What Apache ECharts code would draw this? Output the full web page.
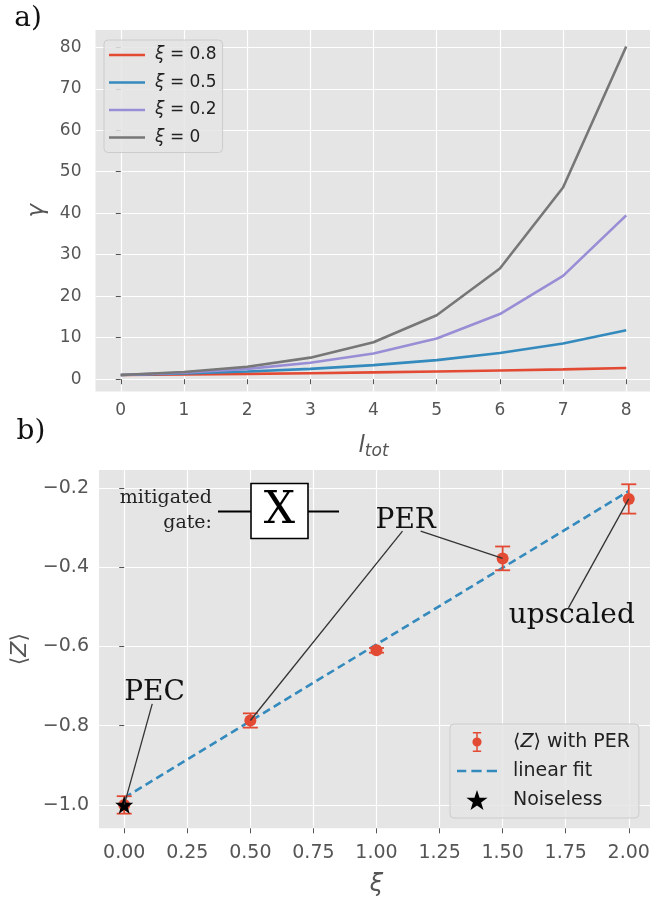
<!DOCTYPE html>
<html><head><meta charset="utf-8">
<script src="https://cdn.jsdelivr.net/npm/echarts@6/dist/echarts.min.js"></script>
<style>html,body{margin:0;padding:0;background:#fff}#c{width:650px;height:898px}</style>
</head><body><div id="c"></div>
<script>
// ---------- data (a) ----------
const lTot = [0, 1, 2, 3, 4, 5, 6, 7, 8];
const gammaXi08 = [1, 1.13, 1.28, 1.45, 1.64, 1.85, 2.1, 2.37, 2.7];
const gammaXi05 = [1, 1.36, 1.85, 2.5, 3.4, 4.6, 6.3, 8.6, 11.8];
const gammaXi02 = [1, 1.58, 2.5, 3.95, 6.2, 9.8, 15.7, 24.9, 39.5];
const gammaXi00 = [1, 1.73, 3.0, 5.2, 8.9, 15.4, 26.7, 46.2, 80.2];
const seriesNamesA = ['ξ = 0.8', 'ξ = 0.5', 'ξ = 0.2', 'ξ = 0'];
const topXTicks = [0, 1, 2, 3, 4, 5, 6, 7, 8];
const topYTicks = [0, 10, 20, 30, 40, 50, 60, 70, 80];

// ---------- data (b) ----------
const xiPER = [0, 0.5, 1.0, 1.5, 2.0];
const zPER = [-1.0, -0.787, -0.61, -0.378, -0.228];
const zErr = [0.022, 0.018, 0.006, 0.03, 0.037];
const fitXi = [0, 2];
const fitZ = [-0.982, -0.208];
const noiselessXi = [0];
const noiselessZ = [-1.0];
const botXTicks = [0, 0.25, 0.5, 0.75, 1.0, 1.25, 1.5, 1.75, 2.0];
const botYTicks = [-1.0, -0.8, -0.6, -0.4, -0.2];
const annLabels = ['PEC', 'PER', 'upscaled'];
const annTextXi = [0.12, 1.116, 1.774];
const annTextZ = [-0.717, -0.284, -0.523];
const annFromXi = [0.111, 1.103, 1.175, 1.761];
const annFromZ = [-0.745, -0.309, -0.309, -0.503];
const annToXi = [0, 0.5, 1.5, 2.0];
const annToZ = [-1.0, -0.787, -0.378, -0.228];

const colorsA = ['#E24A33', '#348ABD', '#988ED5', '#777777'];
const gammas = [gammaXi08, gammaXi05, gammaXi02, gammaXi00];
const RED = '#E24A33', BLUE = '#348ABD';
const SANS = 'DejaVu Sans', SERIF = 'DejaVu Serif';
const STAR = 'path://M50,0 L61.8,35.1 L98.1,35.1 L68.8,56.7 L79.4,91 L50,70 L20.6,91 L31.2,56.7 L1.9,35.1 L38.2,35.1 Z';
const EBAR = 'path://M3,0H13V1.8H3Z M7.1,0H8.9V24H7.1Z M3,22.2H13V24H3Z M13.5,12A5.5,5.5 0 1 1 2.5,12A5.5,5.5 0 1 1 13.5,12Z';
const LINEICON = 'path://M0,0H36V2.5H0Z';
const DASHICON = 'path://M0,0H9V2.5H0Z M14,0H24V2.5H14Z M29,0H39V2.5H29Z';

function axisCommon(ticks, fontSize, margin, fmt) {
  return {
    axisLine: { show: false },
    axisTick: { show: true, customValues: ticks, length: 5, lineStyle: { color: '#555', width: 1 } },
    axisLabel: { customValues: ticks, fontSize: fontSize, color: '#555', margin: margin, fontFamily: SANS, formatter: fmt },
    splitLine: { show: true, lineStyle: { color: '#ffffff', width: 1.2 } }
  };
}

const chart = echarts.init(document.getElementById('c'), null, { renderer: 'canvas' });

const option = {
  animation: false,
  backgroundColor: '#ffffff',
  grid: [
    { left: 95.5, top: 30, width: 556, height: 361.5, show: true, backgroundColor: '#E5E5E5', borderWidth: 0, outerBoundsMode: 'none' },
    { left: 99, top: 470, width: 555, height: 358.3, show: true, backgroundColor: '#E5E5E5', borderWidth: 0, outerBoundsMode: 'none' }
  ],
  xAxis: [
    Object.assign({ type: 'value', gridIndex: 0, min: -0.4, max: 8.4,
      name: '{l|l}{s|tot}', nameLocation: 'middle', nameGap: 40,
      nameTextStyle: { rich: {
        l: { fontSize: 23, fontStyle: 'italic', fontFamily: SANS, color: '#555' },
        s: { fontSize: 17, fontStyle: 'italic', fontFamily: SANS, color: '#555', padding: [12, 0, 0, 0] } } }
    }, axisCommon(topXTicks, 17, 11, v => String(v))),
    Object.assign({ type: 'value', gridIndex: 1, min: -0.1, max: 2.1,
      name: 'ξ', nameLocation: 'middle', nameGap: 44,
      nameTextStyle: { fontSize: 24, fontStyle: 'italic', fontFamily: SANS, color: '#555' }
    }, axisCommon(botXTicks, 19, 15, v => v.toFixed(2)))
  ],
  yAxis: [
    Object.assign({ type: 'value', gridIndex: 0, min: -2.96, max: 84.16,
      name: 'γ', nameLocation: 'middle', nameGap: 44,
      nameTextStyle: { fontSize: 23, fontStyle: 'italic', fontFamily: SANS, color: '#555' }
    }, axisCommon(topYTicks, 17, 14, v => String(v))),
    Object.assign({ type: 'value', gridIndex: 1, min: -1.059, max: -0.155,
      name: '⟨{i|Z}⟩', nameLocation: 'middle', nameGap: 68,
      nameTextStyle: { fontSize: 22, fontFamily: SANS, color: '#555',
        rich: { i: { fontSize: 22, fontStyle: 'italic', fontFamily: SANS, color: '#555' } } }
    }, axisCommon(botYTicks, 19, 10, v => (v < 0 ? '\u2212' : '') + Math.abs(v).toFixed(1)))
  ],
  legend: [
    {
      data: seriesNamesA.map((n, i) => ({ name: n, icon: LINEICON, itemStyle: { color: colorsA[i], borderWidth: 0 } })),
      left: 104, top: 40, orient: 'vertical',
      itemWidth: 36, itemHeight: 12, itemGap: 7.5,
      textStyle: { fontSize: 17, lineHeight: 20, color: '#222', fontFamily: SANS, padding: [0, 0, 0, 5],
        rich: { i: { fontSize: 17, fontStyle: 'italic', fontFamily: SANS, color: '#222' } } },
      formatter: n => n.replace('ξ', '{i|ξ}'),
      backgroundColor: 'rgba(229,229,229,0.85)', borderColor: '#cccccc', borderWidth: 1, borderRadius: 4,
      padding: [5, 6, 5, 5], selectedMode: false
    },
    {
      data: [
        { name: '⟨Z⟩ with PER', icon: EBAR, itemStyle: { color: RED, borderWidth: 0 } },
        { name: 'linear fit', icon: DASHICON, itemStyle: { color: BLUE, borderWidth: 0 } },
        { name: 'Noiseless', itemStyle: { color: '#000', borderWidth: 0 } }
      ],
      left: 450, top: 724, orient: 'vertical',
      itemWidth: 40, itemHeight: 20, itemGap: 7,
      textStyle: { fontSize: 19, lineHeight: 22, color: '#222', fontFamily: SANS, padding: [0, 0, 0, 11],
        rich: { i: { fontSize: 19, fontStyle: 'italic', fontFamily: SANS, color: '#222' } } },
      formatter: n => n.replace('Z', '{i|Z}'),
      backgroundColor: 'rgba(229,229,229,0.85)', borderColor: '#cccccc', borderWidth: 1, borderRadius: 4,
      padding: [7, 9, 7, 7], selectedMode: false
    }
  ],
  series: [],
  graphic: [
    { type: 'text', x: 28, y: 19, style: { text: 'a)', fontSize: 28, fontFamily: SERIF, fill: '#111', textAlign: 'center', textVerticalAlign: 'middle' } },
    { type: 'text', x: 31, y: 432, style: { text: 'b)', fontSize: 28, fontFamily: SERIF, fill: '#111', textAlign: 'center', textVerticalAlign: 'middle' } },
    { type: 'text', x: 212, y: 498, z: 100, style: { text: 'mitigated', fontSize: 19, fontFamily: SERIF, fill: '#222', textAlign: 'right', textVerticalAlign: 'middle' } },
    { type: 'text', x: 212, y: 523, z: 100, style: { text: 'gate:', fontSize: 19, fontFamily: SERIF, fill: '#222', textAlign: 'right', textVerticalAlign: 'middle' } },
    { type: 'line', z: 100, shape: { x1: 218, y1: 511.5, x2: 251, y2: 511.5 }, style: { stroke: '#000', lineWidth: 2 } },
    { type: 'line', z: 100, shape: { x1: 308, y1: 511.5, x2: 339, y2: 511.5 }, style: { stroke: '#000', lineWidth: 2 } },
    { type: 'rect', z: 100, shape: { x: 251, y: 483.5, width: 57, height: 55 }, style: { fill: '#fff', stroke: '#000', lineWidth: 1.6 } },
    { type: 'text', x: 279.5, y: 512, z: 101, style: { text: 'X', fontSize: 44, fontFamily: SERIF, fill: '#000', textAlign: 'center', textVerticalAlign: 'middle' } }
  ]
};

// panel (a) lines
for (let s = 0; s < 4; s++) {
  option.series.push({
    type: 'line', name: seriesNamesA[s], xAxisIndex: 0, yAxisIndex: 0,
    data: lTot.map((x, i) => [x, gammas[s][i]]),
    symbol: 'none', lineStyle: { color: colorsA[s], width: 2.6 }, itemStyle: { color: colorsA[s] }, z: 3
  });
}

// panel (b)
option.series.push({
  type: 'line', name: 'linear fit', xAxisIndex: 1, yAxisIndex: 1,
  data: fitXi.map((x, i) => [x, fitZ[i]]), symbol: 'none',
  lineStyle: { color: BLUE, width: 2.6, type: [8, 4.5] }, itemStyle: { color: BLUE }, z: 3
});
option.series.push({
  type: 'custom', name: 'errbar', xAxisIndex: 1, yAxisIndex: 1, z: 4, silent: true,
  data: xiPER.map((x, i) => [x, zPER[i], zErr[i]]),
  encode: { x: 0, y: 1 },
  renderItem: function (params, api) {
    const x = api.value(0), y = api.value(1), e = api.value(2);
    const t = api.coord([x, y + e]), b = api.coord([x, y - e]);
    const h = 7.5, st = { stroke: RED, lineWidth: 1.8 };
    return { type: 'group', children: [
      { type: 'line', shape: { x1: t[0], y1: t[1], x2: b[0], y2: b[1] }, style: st },
      { type: 'line', shape: { x1: t[0] - h, y1: t[1], x2: t[0] + h, y2: t[1] }, style: st },
      { type: 'line', shape: { x1: b[0] - h, y1: b[1], x2: b[0] + h, y2: b[1] }, style: st }
    ] };
  }
});
option.series.push({
  type: 'scatter', name: '⟨Z⟩ with PER', xAxisIndex: 1, yAxisIndex: 1, z: 5,
  data: xiPER.map((x, i) => [x, zPER[i]]), symbol: 'circle', symbolSize: 12,
  itemStyle: { color: RED, opacity: 1 }
});
option.series.push({
  type: 'scatter', name: 'Noiseless', xAxisIndex: 1, yAxisIndex: 1, z: 6,
  data: noiselessXi.map((x, i) => [x, noiselessZ[i]]), symbol: STAR, symbolSize: 18,
  itemStyle: { color: '#000', opacity: 1 }
});
option.series.push({
  type: 'custom', name: 'annLines', xAxisIndex: 1, yAxisIndex: 1, z: 7, silent: true,
  data: annFromXi.map((x, i) => [x, annFromZ[i], annToXi[i], annToZ[i]]),
  encode: { x: [0, 2], y: [1, 3] },
  renderItem: function (params, api) {
    const a = api.coord([api.value(0), api.value(1)]), b = api.coord([api.value(2), api.value(3)]);
    return { type: 'line', shape: { x1: a[0], y1: a[1], x2: b[0], y2: b[1] }, style: { stroke: '#333', lineWidth: 1.3 } };
  }
});
option.series.push({
  type: 'custom', name: 'annTexts', xAxisIndex: 1, yAxisIndex: 1, z: 8, silent: true,
  data: annTextXi.map((x, i) => [x, annTextZ[i]]),
  encode: { x: 0, y: 1 },
  renderItem: function (params, api) {
    const p = api.coord([api.value(0), api.value(1)]);
    return { type: 'text', x: p[0], y: p[1], style: { text: annLabels[params.dataIndex], fontSize: 28, fontFamily: SERIF, fill: '#111', textAlign: 'center', textVerticalAlign: 'middle' } };
  }
});

chart.setOption(option);
</script>
</body></html>
